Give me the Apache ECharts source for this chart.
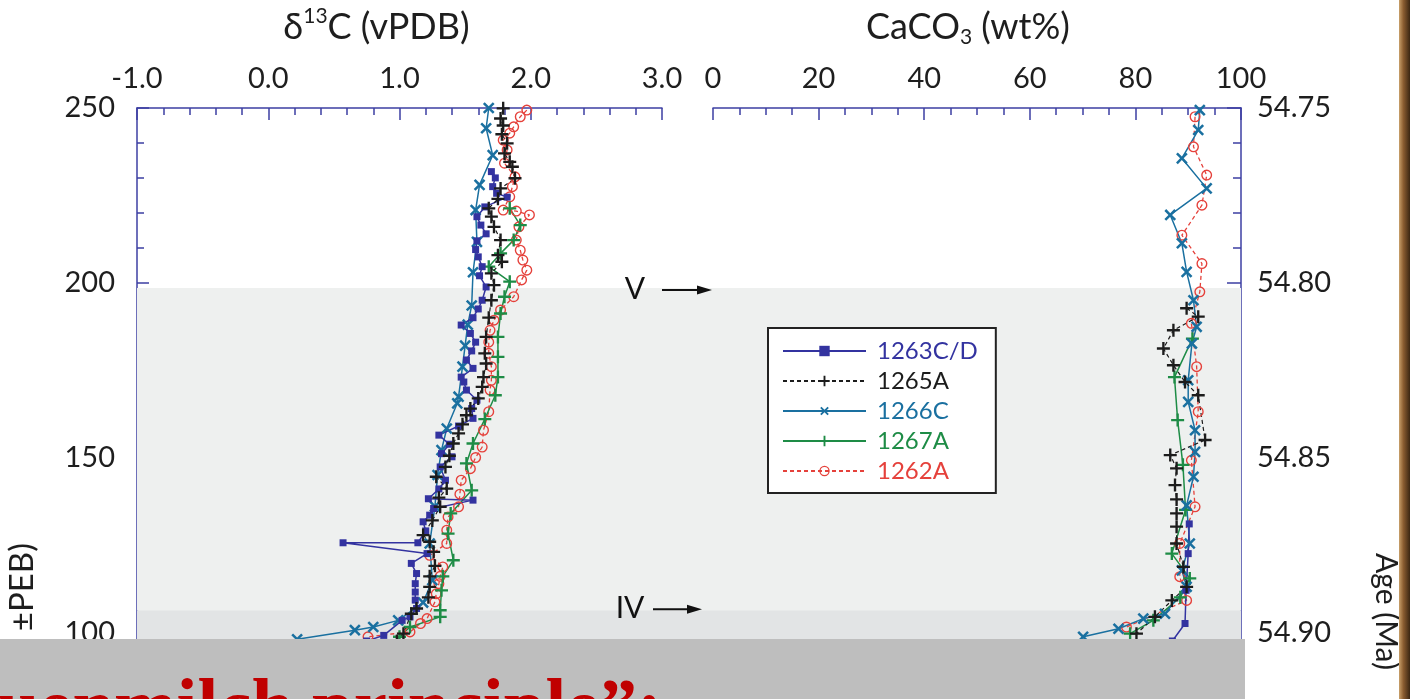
<!DOCTYPE html>
<html>
<head>
<meta charset="utf-8">
<script src="https://cdn.jsdelivr.net/npm/echarts@6/dist/echarts.min.js"></script>
<style>
  html, body { margin: 0; padding: 0; background: #ffffff; }
  #chart { width: 1410px; height: 699px; }
</style>
</head>
<body>
<div id="chart"></div>
<script>
// Site order used by the legend
const sites = ['1263C/D', '1265A', '1266C', '1267A', '1262A'];

// δ13C (‰ vPDB) against depth (cm ±PEB): [value, depth]
const d13c1263 = [[1.70,231.8],[1.73,230.0],[1.71,227.5],[1.74,225.6],[1.82,224.5],[1.65,221.7],[1.59,218.9],[1.62,216.5],[1.66,214.0],[1.59,212.0],[1.58,209.5],[1.60,207.4],[1.63,204.6],[1.61,202.0],[1.66,198.8],[1.63,195.0],[1.60,192.5],[1.56,190.0],[1.47,187.9],[1.54,185.5],[1.58,183.0],[1.55,180.5],[1.51,177.9],[1.56,175.5],[1.47,173.0],[1.49,171.6],[1.51,169.3],[1.59,166.4],[1.55,164.0],[1.56,161.2],[1.45,159.0],[1.30,156.4],[1.38,153.8],[1.32,151.1],[1.40,150.2],[1.31,147.3],[1.35,143.5],[1.30,141.0],[1.22,138.2],[1.56,137.8],[1.26,135.4],[1.23,133.5],[1.18,131.6],[1.20,129.0],[1.14,125.6],[0.57,125.6],[1.21,122.5],[1.09,119.7],[1.13,116.8],[1.12,113.9],[1.12,111.5],[1.12,109.2],[1.13,106.8],[1.08,104.4],[1.02,103.4],[0.88,99.1],[0.75,97.5]];
const d13c1265 = [[1.79,249.9],[1.77,247.0],[1.79,245.0],[1.78,242.5],[1.82,239.9],[1.80,237.0],[1.84,234.6],[1.86,233.2],[1.88,229.9],[1.77,227.0],[1.75,224.0],[1.68,221.3],[1.70,218.9],[1.72,216.0],[1.77,212.2],[1.75,207.9],[1.78,206.0],[1.70,202.7],[1.72,199.3],[1.70,195.0],[1.68,190.0],[1.66,184.5],[1.65,179.8],[1.66,176.9],[1.64,173.0],[1.63,170.2],[1.60,166.9],[1.54,164.0],[1.51,162.1],[1.48,159.5],[1.45,156.9],[1.41,154.0],[1.38,150.5],[1.35,147.3],[1.28,144.5],[1.36,141.1],[1.30,138.5],[1.31,135.9],[1.25,132.0],[1.18,127.8],[1.23,125.9],[1.26,123.0],[1.27,119.0],[1.23,116.0],[1.23,113.0],[1.22,110.0],[1.13,106.8],[1.09,105.3],[1.03,99.6],[0.98,97.5]];
const d13c1266 = [[1.68,250.0],[1.66,244.2],[1.71,236.5],[1.61,228.0],[1.58,220.8],[1.59,211.7],[1.56,203.0],[1.55,193.5],[1.52,188.0],[1.50,182.0],[1.48,176.0],[1.45,167.4],[1.44,165.5],[1.36,158.3],[1.32,152.1],[1.29,145.0],[1.27,136.0],[1.23,125.4],[1.25,114.9],[1.18,108.5],[0.99,103.4],[0.80,101.5],[0.66,100.6],[0.22,98.0]];
const d13c1267 = [[1.84,221.3],[1.92,216.5],[1.87,212.2],[1.77,208.4],[1.68,204.6],[1.84,200.3],[1.80,196.0],[1.77,191.2],[1.75,184.5],[1.75,178.8],[1.75,173.0],[1.73,167.8],[1.65,161.0],[1.56,154.0],[1.51,148.3],[1.55,140.6],[1.39,134.0],[1.37,128.2],[1.41,120.6],[1.33,116.0],[1.32,112.0],[1.31,106.3],[1.31,104.4],[1.08,101.5],[1.00,98.7]];
const d13c1262 = [[1.97,249.4],[1.92,247.5],[1.87,244.6],[1.84,242.8],[1.79,240.8],[1.82,238.0],[1.80,234.2],[1.88,230.3],[1.86,227.5],[1.84,224.6],[1.79,220.8],[1.89,220.5],[1.99,219.4],[1.91,216.0],[1.89,212.2],[1.92,209.3],[1.94,206.5],[1.97,203.6],[1.93,200.8],[1.87,196.0],[1.77,192.2],[1.72,189.3],[1.69,186.4],[1.68,183.0],[1.68,179.8],[1.70,176.0],[1.70,172.1],[1.69,169.3],[1.68,163.1],[1.64,157.8],[1.63,153.0],[1.58,150.0],[1.54,146.8],[1.47,143.5],[1.46,139.5],[1.45,135.9],[1.37,133.0],[1.36,129.2],[1.36,125.4],[1.23,122.0],[1.33,118.7],[1.31,116.0],[1.30,113.9],[1.28,111.0],[1.27,108.7],[1.21,103.9],[1.16,102.5],[1.08,100.1],[0.76,98.7]];

// CaCO3 (wt%) against depth (cm ±PEB): [value, depth]
const caco1263 = [[90.2,131.0],[90.0,122.5],[89.6,112.0],[89.4,102.5],[87.0,97.5]];
const caco1265 = [[89.7,192.7],[91.9,190.3],[87.2,186.4],[85.3,181.2],[87.2,176.4],[89.4,171.6],[91.9,167.8],[93.2,155.0],[86.6,150.7],[87.8,146.9],[87.5,142.1],[87.8,138.0],[87.8,134.0],[87.8,130.2],[87.8,125.4],[89.1,118.7],[89.7,113.0],[86.9,109.1],[83.7,104.4],[80.2,99.6]];
const caco1266 = [[92.2,249.4],[91.9,243.7],[88.8,235.6],[93.5,227.0],[86.6,219.4],[88.8,211.3],[89.7,203.1],[91.0,195.0],[91.6,187.4],[90.7,182.6],[90.0,172.1],[90.0,165.9],[91.3,157.8],[91.3,151.6],[91.0,144.5],[89.7,136.3],[90.3,125.4],[88.8,117.7],[89.7,113.0],[85.6,105.3],[81.5,103.9],[76.8,101.0],[70.1,98.7]];
const caco1267 = [[90.8,184.0],[87.4,173.0],[88.0,160.7],[89.0,147.9],[89.5,135.0],[86.9,122.5],[90.3,115.4],[88.5,110.0],[83.4,103.4],[79.0,99.6]];
const caco1262 = [[91.3,247.5],[91.0,238.9],[93.5,230.8],[92.6,222.2],[88.8,213.6],[92.6,205.5],[92.2,197.4],[90.6,188.4],[91.6,176.0],[91.9,163.1],[90.6,149.2],[91.3,135.9],[88.4,125.4],[88.4,115.9],[89.7,109.1],[78.3,101.5]];

// Event horizons V and IV (depth, cm ±PEB)
const horizons = [{ label: 'V', depth: 198.5 }, { label: 'IV', depth: 106.3 }];

const FONT = 'Lato';
const INK = '#1e1e1e';
const AXIS = '#3d3fa3';
const PLUS = 'path://M4.1,0H5.9V4.1H10V5.9H5.9V10H4.1V5.9H0V4.1H4.1Z';
const RING = 'path://M5,0A5,5,0,1,1,5,10A5,5,0,1,1,5,0ZM5,1.25A3.75,3.75,0,1,0,5,8.75A3.75,3.75,0,1,0,5,1.25Z';

const styles = {
  '1263C/D': { color: '#3333a0', symbol: 'rect', size: 7, rotate: 0, line: 'solid', width: 1.5 },
  '1265A':   { color: '#1c1c1c', symbol: PLUS, size: 13, rotate: 0, line: [4, 3], width: 1.2 },
  '1266C':   { color: '#1a70a0', symbol: PLUS, size: 14, rotate: 45, line: 'solid', width: 1.5 },
  '1267A':   { color: '#1e8c46', symbol: PLUS, size: 13, rotate: 0, line: 'solid', width: 1.5 },
  '1262A':   { color: '#e5413b', symbol: RING, size: 11, rotate: 0, line: [4, 3], width: 1.3 }
};

const leftData  = { '1263C/D': d13c1263, '1265A': d13c1265, '1266C': d13c1266, '1267A': d13c1267, '1262A': d13c1262 };
const rightData = { '1263C/D': caco1263, '1265A': caco1265, '1266C': caco1266, '1267A': caco1267, '1262A': caco1262 };

function makeSeries(name, data, xi, yi) {
  const s = styles[name];
  return {
    type: 'line', name: name, data: data,
    xAxisIndex: xi, yAxisIndex: yi,
    symbol: s.symbol, symbolSize: s.size, symbolRotate: s.rotate,
    showSymbol: true, clip: true, z: 3,
    lineStyle: { color: s.color, width: s.width, type: s.line },
    itemStyle: { color: s.color, borderWidth: 0 }
  };
}

const drawOrder = ['1262A', '1267A', '1266C', '1263C/D', '1265A'];
const series = [];
drawOrder.forEach(n => series.push(makeSeries(n, leftData[n], 0, 0)));
drawOrder.forEach(n => series.push(makeSeries(n, rightData[n], 1, 1)));

// Shaded intervals behind both panels
series.push({
  type: 'line', name: 'bands', data: [[0, 50]], xAxisIndex: 2, yAxisIndex: 3,
  showSymbol: false, lineStyle: { opacity: 0 }, z: -1, silent: true,
  markArea: {
    silent: true,
    data: [
      [{ yAxis: horizons[0].depth, itemStyle: { color: '#eef0ef' } }, { yAxis: horizons[1].depth }],
      [{ yAxis: horizons[1].depth, itemStyle: { color: '#e2e4e5' } }, { yAxis: 50 }]
    ]
  }
});

const richTitle = {
  a: { fontFamily: FONT, fontSize: 36, color: INK, lineHeight: 42 },
  s: { fontFamily: FONT, fontSize: 21, color: INK, verticalAlign: 'top', lineHeight: 24 },
  b: { fontFamily: FONT, fontSize: 21, color: INK, verticalAlign: 'bottom', lineHeight: 22 }
};

const lineS = { color: AXIS, width: 1.5 };
function topAxis(grid, min, max, interval, minorSplit, fmt, name, shift) {
  return {
    type: 'value', gridIndex: grid, position: 'top', min: min, max: max, interval: interval,
    axisLine: { show: true, onZero: false, lineStyle: lineS },
    axisTick: { show: true, inside: true, length: 12, lineStyle: lineS },
    minorTick: { show: true, splitNumber: minorSplit, length: 7, lineStyle: lineS },
    splitLine: { show: false },
    axisLabel: { color: INK, fontFamily: FONT, fontSize: 29, margin: 15, formatter: fmt },
    name: name, nameLocation: 'middle', nameGap: 60,
    nameTextStyle: { color: INK, fontFamily: FONT, fontSize: 36, padding: [0, shift, 0, 0], rich: richTitle }
  };
}

const gridBase = { outerBoundsMode: 'none', containLabel: false };

const option = {
  animation: false,
  backgroundColor: '#ffffff',
  grid: [
    Object.assign({ left: 137, top: 108, width: 525, height: 699 }, gridBase),
    Object.assign({ left: 713, top: 108, width: 528, height: 699 }, gridBase),
    Object.assign({ left: 137, top: 108, width: 1104, height: 699 }, gridBase)
  ],
  xAxis: [
    topAxis(0, -1, 3, 1, 5, v => v.toFixed(1), '{a|δ}{s|13}{a|C (vPDB)}', 46),
    topAxis(1, 0, 100, 20, 4, v => String(v), '{a|CaCO}{b|3}{a| (wt%)}', 18),
    { type: 'value', gridIndex: 2, min: 0, max: 1, show: false }
  ],
  yAxis: [
    {
      type: 'value', gridIndex: 0, position: 'left', min: 50, max: 250, interval: 50,
      axisLine: { show: true, onZero: false, lineStyle: lineS },
      axisTick: { show: true, inside: true, length: 12, lineStyle: lineS },
      minorTick: { show: true, splitNumber: 5, length: 7, lineStyle: lineS },
      splitLine: { show: false },
      axisLabel: { color: INK, fontFamily: FONT, fontSize: 29, margin: 22 }
    },
    { type: 'value', gridIndex: 1, position: 'left', min: 50, max: 250, show: false },
    {
      type: 'value', gridIndex: 1, position: 'right', inverse: true,
      min: 54.75, max: 54.95, interval: 0.05,
      axisLine: { show: true, onZero: false, lineStyle: lineS },
      axisTick: { show: true, inside: true, length: 14, lineStyle: lineS },
      minorTick: { show: true, splitNumber: 5, length: 8, lineStyle: lineS },
      splitLine: { show: false },
      axisLabel: { color: INK, fontFamily: FONT, fontSize: 29, margin: 16, formatter: v => v.toFixed(2) }
    },
    { type: 'value', gridIndex: 2, min: 50, max: 250, show: false }
  ],
  legend: {
    orient: 'vertical', left: 768, top: 328,
    data: sites.map(n => ({ name: n, textStyle: { color: styles[n].color } })),
    itemWidth: 83, itemHeight: 13, itemGap: 6,
    selectedMode: false,
    backgroundColor: '#ffffff', borderColor: '#222222', borderWidth: 2, borderRadius: 0,
    padding: [11, 18, 10, 14],
    textStyle: { fontFamily: FONT, fontSize: 24, padding: [0, 0, 0, 6] }
  },
  series: series
};

const chart = echarts.init(document.getElementById('chart'), null, { renderer: 'canvas' });
chart.setOption(option);

// Annotations: horizon arrows, axis titles, overlay banner
const yV = chart.convertToPixel({ yAxisIndex: 0 }, horizons[0].depth);
const yIV = chart.convertToPixel({ yAxisIndex: 0 }, horizons[1].depth);

function arrow(x0, x1, y) {
  return [
    { type: 'line', shape: { x1: x0, y1: y, x2: x1 - 10, y2: y }, style: { stroke: '#111', lineWidth: 2 }, z: 50 },
    { type: 'polygon', shape: { points: [[x1 - 15, y - 4.5], [x1, y], [x1 - 15, y + 4.5]] }, style: { fill: '#111' }, z: 50 }
  ];
}

const graphics = [];
graphics.push({ type: 'text', x: 635, y: yV + 1, style: { text: horizons[0].label, font: '30px ' + FONT, fill: '#111', textAlign: 'center', textVerticalAlign: 'middle' }, z: 50 });
graphics.push(...arrow(662, 712, yV + 2));
graphics.push({ type: 'text', x: 630, y: yIV - 2, style: { text: horizons[1].label, font: '30px ' + FONT, fill: '#111', textAlign: 'center', textVerticalAlign: 'middle' }, z: 50 });
graphics.push(...arrow(653, 702, yIV - 1));

// Left axis title (rotated)
graphics.push({ type: 'text', x: 22, y: 543, rotation: Math.PI / 2,
  style: { text: 'Depth (cm ±PEB)', font: '33px ' + FONT, fill: INK, textAlign: 'right', textVerticalAlign: 'middle' }, z: 50 });
// Right axis title (rotated)
graphics.push({ type: 'text', x: 1386, y: 553, rotation: -Math.PI / 2,
  style: { text: 'Age (Ma)', font: '30px ' + FONT, fill: INK, textAlign: 'left', textVerticalAlign: 'middle' }, z: 50 });

// Wooden frame edge on the right
graphics.push({ type: 'rect', shape: { x: 1399, y: 0, width: 11, height: 699 }, z: 60,
  style: { fill: new echarts.graphic.LinearGradient(0, 0, 1, 0, [
    { offset: 0, color: '#c9a06a' }, { offset: 0.4, color: '#8a5c30' }, { offset: 1, color: '#3a2612' }]) } });

// Overlay banner
graphics.push({ type: 'rect', shape: { x: 0, y: 639, width: 1245, height: 60 }, style: { fill: '#bebebe' }, z: 90 });
graphics.push({ type: 'text', x: 662, y: 711,
  style: { text: 'uenmilch principle\u201d:', font: 'bold 75px "Liberation Serif"', fill: '#c00000', textAlign: 'right', textVerticalAlign: 'middle' }, z: 91 });

chart.setOption({ graphic: { elements: graphics } });
</script>
</body>
</html>
